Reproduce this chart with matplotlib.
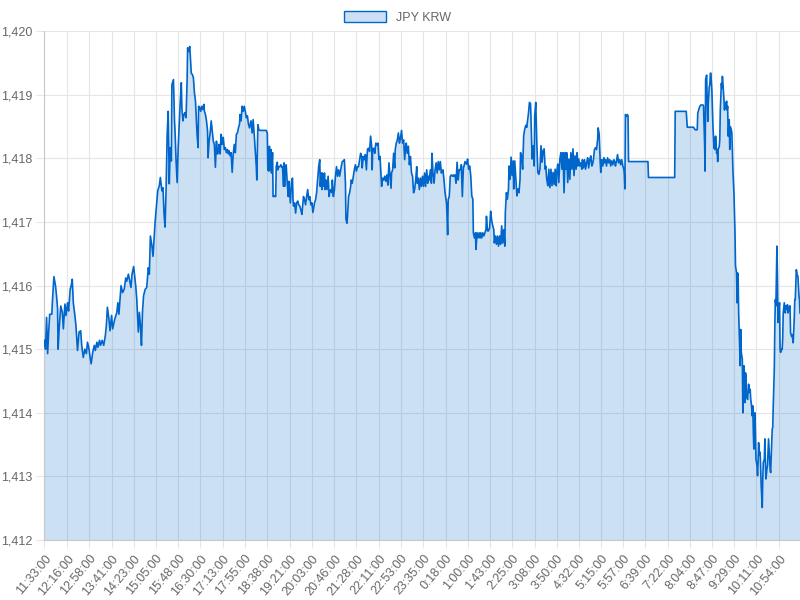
#!/usr/bin/env python3
"""JPY/KRW intraday rate, 24h of minute data, drawn as a filled line chart."""
import matplotlib
matplotlib.use("Agg")
import matplotlib.pyplot as plt
from matplotlib.patches import Patch

START = "11:33:00"   # first sample of the window

# minutes after START, and the rate at that minute
offsets = [
    0, 2, 4, 6, 8, 10, 14, 15, 18, 21, 23, 25, 26, 28, 31, 34, 36, 39, 41, 44,
    46, 49, 51, 53, 55, 58, 60, 63, 66, 69, 71, 74, 77, 80, 82, 85, 87, 89, 92, 95,
    97, 100, 102, 105, 107, 110, 113, 116, 118, 120, 123, 125, 128, 130, 134, 138, 140, 142, 146, 149,
    152, 155, 157, 160, 162, 165, 167, 170, 174, 176, 179, 181, 183, 185, 187, 189, 192, 195, 198, 200,
    202, 205, 207, 209, 211,
    # 15:05 - 17:55
    216, 219, 221, 224, 226, 228, 230, 232, 234, 236, 238, 240, 242, 243, 246, 248, 249, 251, 253, 255,
    257, 259, 261, 262, 264, 266, 268, 270, 272, 273, 275, 277, 278, 280, 282, 284, 286, 288, 290, 291,
    293, 294, 296, 298, 300, 302, 304, 305, 307, 309, 311, 312, 314, 316, 318, 320, 322, 324, 326, 328,
    330, 332, 333, 335, 337, 339, 341, 343, 345, 347, 349, 351, 352, 354, 356, 358, 360, 362, 364, 366,
    368, 370, 372, 373, 375, 377, 379, 381, 383, 385, 387, 389, 391, 393, 394, 396, 398, 400, 402,
    # 17:55 - 21:30
    404, 405, 407, 409, 411, 415, 419, 423, 425, 426, 428, 429, 430, 432, 433, 435, 436, 437, 439, 441,
    442, 444, 445, 447, 449, 451, 453, 454, 456, 457, 458, 459, 461, 463, 465, 466, 468, 469, 471, 473,
    474, 475, 477, 479, 481, 483, 485, 487, 489, 491, 493, 494, 496, 498, 500, 502, 504, 506, 508, 510,
    512, 514, 515, 517, 519, 521, 523, 525, 526, 528, 529, 530, 531, 533, 534, 535, 537, 539, 541, 543,
    544, 546, 548, 549, 551, 553, 555, 557, 559, 561, 563, 564, 566, 568, 570, 572, 574, 575, 577, 578,
    580, 582, 584, 585, 587, 589, 591, 593, 595, 597, 599, 601, 603,
    # 21:30 - 0:55
    605, 606, 608, 610, 612, 614, 616, 618, 620, 622, 624, 625, 626, 628, 630, 632, 634, 636, 638, 640,
    641, 643, 645, 647, 649, 651, 653, 655, 657, 659, 661, 662, 664, 666, 668, 669, 671, 673, 675, 677,
    679, 681, 683, 685, 687, 689, 690, 692, 694, 696, 698, 700, 702, 704, 706, 708, 710, 711, 713, 715,
    717, 719, 721, 723, 725, 727, 729, 731, 732, 734, 736, 738, 739, 741, 743, 745, 747, 749, 751, 753,
    755, 757, 758, 760, 762, 764, 766, 767, 769, 770, 772, 774, 776, 778, 780, 781, 783, 785, 787, 789,
    791, 793, 795, 797, 799, 800, 802,
    # 0:55 - 4:30
    805, 807, 809, 811, 813, 815, 817, 818, 820, 822, 823, 825, 827, 829, 831, 832, 834, 836, 838, 840,
    842, 843, 845, 847, 849, 851, 853, 855, 857, 858, 860, 862, 864, 866, 868, 870, 872, 874, 876, 878,
    879, 881, 883, 885, 886, 888, 890, 892, 894, 895, 897, 899, 901, 903, 905, 907, 908, 910, 912, 914,
    916, 918, 920, 921, 923, 925, 927, 928, 930, 932, 934, 935, 937, 939, 941, 943, 945, 947, 949, 951,
    953, 955, 956, 958, 960, 962, 964, 966, 968, 970, 972, 974, 976, 977, 979, 981, 983, 985, 987, 989,
    991, 993, 995, 996, 998, 1000, 1002, 1004, 1006, 1008, 1010, 1012, 1014, 1016, 1017, 1019, 1021,
    # 4:30 - 8:20
    1023, 1025, 1026, 1028, 1030, 1032, 1034, 1036, 1038, 1040, 1042, 1044, 1046, 1047, 1049, 1051, 1053, 1055, 1056, 1058,
    1059, 1060, 1061, 1063, 1065, 1067, 1068, 1070, 1072, 1074, 1076, 1078, 1080, 1082, 1084, 1086, 1088, 1089, 1091, 1093,
    1095, 1097, 1099, 1101, 1103, 1105, 1106, 1107, 1108, 1110, 1112, 1113, 1114, 1151, 1152, 1202, 1203, 1224, 1226, 1238,
    1241, 1245, 1246, 1248, 1250,
    # 8:25 - 11:33
    1252, 1254, 1256, 1257, 1259, 1260, 1261, 1263, 1264, 1265, 1266, 1268, 1269, 1270, 1271, 1273, 1274, 1275, 1277, 1278,
    1279, 1280, 1282, 1283, 1284, 1285, 1287, 1288, 1289, 1291, 1292, 1293, 1294, 1296, 1297, 1298, 1299, 1301, 1302, 1303,
    1304, 1306, 1307, 1308, 1310, 1311, 1312, 1313, 1315, 1316, 1317, 1318, 1320, 1321, 1322, 1323, 1324, 1325, 1327, 1328,
    1329, 1331, 1332, 1333, 1334, 1336, 1337, 1338, 1339, 1341, 1342, 1343, 1345, 1346, 1347, 1348, 1350, 1351, 1352, 1353,
    1355, 1356, 1357, 1359, 1360, 1361, 1362, 1364, 1365, 1366, 1367, 1369, 1370, 1371, 1373, 1374, 1375, 1376, 1378, 1379,
    1380, 1381, 1383, 1384, 1385, 1387, 1388, 1389, 1390, 1392, 1393, 1394, 1395, 1397, 1398, 1399, 1400, 1402, 1403, 1404,
    1406, 1407, 1408, 1409, 1411, 1412, 1413, 1414, 1416, 1417, 1418, 1420, 1421, 1422, 1423, 1425, 1426, 1427, 1428, 1430,
    1431, 1432, 1434, 1435, 1436, 1437, 1439, 1440, 1441,
]

rates = [
    1415.14, 1415.0, 1415.5, 1414.93, 1415.27, 1415.55, 1415.55, 1415.73, 1416.14, 1416.0,
    1415.84, 1415.63, 1415.0, 1415.32, 1415.68, 1415.58, 1415.32, 1415.71, 1415.53, 1415.73,
    1415.6, 1415.94, 1416.0, 1416.1, 1415.73, 1415.53, 1415.37, 1414.98, 1415.27, 1415.29,
    1415.06, 1414.87, 1415.0, 1414.93, 1415.11, 1415.0, 1414.87, 1414.77, 1414.95, 1415.06,
    1414.98, 1415.11, 1415.03, 1415.14, 1415.06, 1415.14, 1415.06, 1415.21, 1415.37, 1415.66,
    1415.47, 1415.29, 1415.53, 1415.32, 1415.47, 1415.58, 1415.73, 1415.55, 1416.0, 1415.89,
    1415.94, 1416.12, 1416.07, 1416.18, 1416.1, 1415.97, 1416.18, 1416.3, 1416.0, 1415.79,
    1415.27, 1415.58, 1415.37, 1415.06, 1415.6, 1415.84, 1415.94, 1415.97, 1416.28, 1416.18,
    1416.78, 1416.62, 1416.46, 1416.72, 1417.0,
    # 15:05 - 17:55
    1417.49, 1417.57, 1417.7, 1417.49, 1417.54, 1417.13, 1416.92, 1417.54, 1418.38, 1418.74,
    1417.6, 1418.17, 1417.96, 1419.16, 1419.24, 1418.59, 1418.43, 1417.96, 1417.62, 1418.17,
    1418.54, 1418.9, 1419.19, 1418.8, 1418.59, 1418.69, 1418.72, 1418.64, 1419.21, 1419.74,
    1419.68, 1419.76, 1419.63, 1419.34, 1419.32, 1419.27, 1419.03, 1418.9, 1418.54, 1418.38,
    1418.17, 1418.82, 1418.8, 1418.74, 1418.82, 1418.77, 1418.85, 1418.74, 1418.69, 1418.59,
    1418.43, 1418.01, 1418.27, 1418.4, 1418.59, 1418.43, 1418.27, 1418.22, 1417.86, 1418.27,
    1418.07, 1418.12, 1418.22, 1418.07, 1418.38, 1418.22, 1418.33, 1418.14, 1418.17, 1418.09,
    1418.14, 1418.07, 1418.12, 1418.04, 1418.09, 1417.78, 1418.07, 1418.22, 1418.09, 1418.38,
    1418.4, 1418.48, 1418.54, 1418.69, 1418.59, 1418.82, 1418.74, 1418.82, 1418.74, 1418.64,
    1418.67, 1418.54, 1418.48, 1418.56, 1418.59, 1418.4, 1418.61, 1418.38, 1418.12,
    # 17:55 - 21:30
    1417.87, 1417.66, 1418.53, 1418.45, 1418.44, 1418.44, 1418.44, 1418.44, 1418.4, 1417.82,
    1417.8, 1418.19, 1417.82, 1418.14, 1417.77, 1418.09, 1417.4, 1417.4, 1417.41, 1417.4,
    1417.87, 1417.94, 1417.82, 1417.87, 1417.87, 1417.9, 1417.86, 1417.87, 1417.56, 1417.93,
    1417.56, 1417.87, 1417.9, 1417.61, 1417.4, 1417.64, 1417.4, 1417.3, 1417.61, 1417.69,
    1417.35, 1417.25, 1417.3, 1417.14, 1417.3, 1417.33, 1417.27, 1417.25, 1417.19, 1417.12,
    1417.3, 1417.4, 1417.35, 1417.27, 1417.4, 1417.51, 1417.35, 1417.4, 1417.27, 1417.3,
    1417.15, 1417.25, 1417.3, 1417.35, 1417.46, 1417.66, 1417.87, 1417.98, 1417.56, 1417.77,
    1417.51, 1417.77, 1417.66, 1417.56, 1417.77, 1417.51, 1417.66, 1417.51, 1417.72, 1417.4,
    1417.46, 1417.51, 1417.46, 1417.66, 1417.4, 1417.51, 1417.72, 1417.87, 1417.72, 1417.82,
    1417.72, 1417.77, 1417.87, 1417.95, 1417.96, 1417.98, 1417.61, 1417.04, 1416.98, 1417.09,
    1417.4, 1417.46, 1417.56, 1417.66, 1417.61, 1417.72, 1417.82, 1417.9, 1417.8, 1417.87,
    1417.87, 1417.98, 1418.08,
    # 21:30 - 0:55
    1418.03, 1417.85, 1418.03, 1417.98, 1418.06, 1417.82, 1418.14, 1418.16, 1418.11, 1418.35,
    1418.19, 1417.82, 1418.14, 1418.16, 1418.08, 1418.24, 1418.21, 1418.24, 1417.98, 1418.03,
    1417.87, 1417.56, 1417.69, 1417.66, 1417.72, 1417.64, 1417.74, 1417.58, 1417.93, 1417.72,
    1417.53, 1417.77, 1417.82, 1418.08, 1417.85, 1418.14, 1418.24, 1418.29, 1418.4, 1418.24,
    1418.32, 1418.44, 1418.24, 1418.29, 1417.98, 1418.19, 1418.24, 1418.08, 1418.19, 1417.9,
    1418.03, 1417.77, 1417.72, 1417.46, 1417.51, 1417.66, 1417.87, 1417.61, 1417.69, 1417.51,
    1417.69, 1417.56, 1417.72, 1417.56, 1417.77, 1417.56, 1417.82, 1417.61, 1417.72, 1417.66,
    1417.82, 1417.61, 1418.08, 1417.77, 1417.61, 1417.82, 1417.93, 1417.77, 1417.95, 1417.82,
    1417.95, 1417.77, 1417.8, 1417.82, 1417.66, 1417.46, 1417.35, 1417.27, 1416.8, 1417.35,
    1417.4, 1417.72, 1417.74, 1417.72, 1417.74, 1417.72, 1417.74, 1417.61, 1417.94, 1417.66,
    1417.82, 1417.82, 1417.9, 1417.4, 1417.87, 1417.87, 1417.95,
    # 0:55 - 4:30
    1417.91, 1417.99, 1417.83, 1417.88, 1417.73, 1417.41, 1417.36, 1416.83, 1416.75, 1416.83,
    1416.57, 1416.83, 1416.75, 1416.83, 1416.75, 1416.83, 1416.75, 1416.83, 1416.78, 1416.83,
    1416.88, 1417.09, 1416.86, 1416.86, 1416.91, 1417.17, 1417.02, 1416.94, 1416.88, 1416.67,
    1416.78, 1416.65, 1416.78, 1416.62, 1416.78, 1416.65, 1416.94, 1416.67, 1416.88, 1416.62,
    1417.15, 1417.46, 1417.36, 1417.52, 1417.88, 1417.67, 1418.02, 1417.73, 1417.96, 1417.52,
    1417.96, 1417.67, 1417.41, 1417.52, 1417.46, 1417.67, 1418.09, 1418.04, 1417.83, 1418.36,
    1418.46, 1418.52, 1418.49, 1418.57, 1418.7, 1418.88, 1418.86, 1418.62, 1417.99, 1418.2,
    1417.88, 1418.67, 1418.88, 1418.25, 1417.78, 1417.75, 1417.83, 1418.2, 1417.94, 1418.12,
    1418.15, 1417.83, 1417.88, 1417.67, 1417.57, 1417.83, 1417.54, 1417.83, 1417.57, 1417.78,
    1417.59, 1417.83, 1417.57, 1417.78, 1417.91, 1417.62, 1417.99, 1418.09, 1417.83, 1418.09,
    1417.46, 1418.09, 1417.83, 1418.09, 1417.62, 1417.99, 1417.67, 1418.09, 1417.83, 1418.15,
    1417.73, 1418.04, 1417.83, 1418.09, 1417.88, 1417.99, 1417.88,
    # 4:30 - 8:20
    1417.93, 1417.83, 1417.98, 1417.85, 1417.98, 1417.83, 1417.93, 1418.01, 1417.85, 1417.98,
    1418.04, 1417.88, 1417.93, 1417.98, 1418.14, 1418.17, 1418.14, 1418.3, 1418.48, 1418.38,
    1418.14, 1417.93, 1417.78, 1417.98, 1417.88, 1418.01, 1417.93, 1417.98, 1417.88, 1418.01,
    1417.93, 1417.98, 1417.88, 1417.96, 1417.9, 1417.98, 1417.93, 1417.88, 1417.96, 1418.06,
    1417.93, 1417.98, 1417.9, 1417.98, 1417.88, 1417.83, 1417.75, 1417.52, 1418.69, 1418.66,
    1418.69, 1418.66, 1417.95, 1417.95, 1417.7, 1417.7, 1418.74, 1418.74, 1418.49, 1418.49,
    1418.45, 1418.45, 1418.71, 1418.77, 1418.82,
    # 8:25 - 11:33
    1418.84, 1418.84, 1418.84, 1418.82, 1418.24, 1417.8, 1419.24, 1419.31, 1418.87, 1418.58,
    1418.87, 1419.13, 1419.16, 1419.34, 1419.34, 1419.05, 1418.76, 1418.5, 1418.16, 1418.32,
    1418.14, 1418.35, 1418.08, 1418.14, 1417.95, 1418.14, 1418.19, 1418.29, 1418.76, 1419.18,
    1419.1, 1419.29, 1419.18, 1418.92, 1418.76, 1418.87, 1418.79, 1418.9, 1418.76, 1418.82,
    1418.35, 1418.61, 1418.14, 1418.5, 1418.45, 1418.4, 1418.14, 1417.82, 1417.46, 1417.14,
    1416.83, 1416.31, 1416.2, 1415.73, 1416.2, 1416.1, 1415.57, 1415.31, 1414.74, 1415.31,
    1414.95, 1414.84, 1414.0, 1414.48, 1414.74, 1414.16, 1414.63, 1414.58, 1414.27, 1414.21,
    1414.32, 1414.45, 1414.32, 1414.37, 1414.21, 1414.16, 1413.95, 1414.11, 1413.69, 1413.43,
    1414.0, 1413.69, 1413.27, 1413.17, 1413.01, 1413.22, 1413.53, 1413.33, 1413.38, 1413.12,
    1412.85, 1412.51, 1412.96, 1413.22, 1413.27, 1413.59, 1413.22, 1412.96, 1413.12, 1413.17,
    1413.4, 1413.59, 1413.27, 1413.12, 1413.06, 1413.53, 1413.74, 1413.77, 1414.11, 1414.69,
    1415.37, 1415.78, 1415.68, 1416.62, 1416.15, 1415.42, 1415.57, 1415.73, 1415.0, 1414.95,
    1415.0, 1415.0, 1415.16, 1415.57, 1415.73, 1415.65, 1415.57, 1415.68, 1415.63, 1415.7,
    1415.57, 1415.63, 1415.68, 1415.68, 1415.26, 1415.2, 1415.23, 1415.16, 1415.1, 1415.47,
    1415.78, 1415.78, 1416.25, 1416.2, 1416.15, 1416.15, 1415.84, 1415.78, 1415.57,
]

tick_labels = [
    "11:33:00", "12:16:00", "12:58:00", "13:41:00", "14:23:00", "15:05:00", "15:48:00",
    "16:30:00", "17:13:00", "17:55:00", "18:38:00", "19:21:00", "20:03:00", "20:46:00",
    "21:28:00", "22:11:00", "22:53:00", "23:35:00", "0:18:00", "1:00:00", "1:43:00",
    "2:25:00", "3:08:00", "3:50:00", "4:32:00", "5:15:00", "5:57:00", "6:39:00",
    "7:22:00", "8:04:00", "8:47:00", "9:29:00", "10:11:00", "10:54:00",
]

y_ticks = [1412, 1413, 1414, 1415, 1416, 1417, 1418, 1419, 1420]

LINE = "#0066cc"
GRID = "#e6e6e6"
TEXT = "#666666"


def minutes_after_start(label):
    h, m, _ = (int(p) for p in label.split(":"))
    sh, sm, _ = (int(p) for p in START.split(":"))
    d = (h * 60 + m) - (sh * 60 + sm)
    return d if d >= 0 else d + 24 * 60


def main():
    if len(offsets) != len(rates):
        raise SystemExit(f"length mismatch: {len(offsets)} offsets vs {len(rates)} rates")

    plt.rcParams["font.family"] = ["Liberation Sans", "DejaVu Sans"]
    fig = plt.figure(figsize=(8, 6), dpi=100)
    ax = fig.add_axes([0.0556, 0.1, 0.9444, 0.848])

    ax.fill_between(offsets, rates, y_ticks[0], color=LINE, alpha=0.2, lw=0, zorder=2)
    ax.plot(offsets, rates, color=LINE, lw=1.2, zorder=3)

    ax.set_xlim(0, offsets[-1])
    ax.set_ylim(y_ticks[0], y_ticks[-1])

    ax.set_xticks([minutes_after_start(t) for t in tick_labels])
    ax.set_xticklabels(tick_labels, rotation=50, ha="right", rotation_mode="anchor",
                       fontsize=9, color=TEXT)
    ax.set_yticks(y_ticks)
    ax.set_yticklabels([f"{v:,}" for v in y_ticks], fontsize=9, color=TEXT)

    ax.grid(True, color=GRID, lw=0.8, zorder=0)
    ax.set_axisbelow(True)
    ax.tick_params(axis="both", length=6, width=0.8, color=GRID, pad=3)
    for side in ("top", "right"):
        ax.spines[side].set_visible(False)
    for side in ("left", "bottom"):
        ax.spines[side].set_color("#c8c8c8")
        ax.spines[side].set_linewidth(0.8)

    fig.legend(handles=[Patch(facecolor="#cce0f5", edgecolor=LINE, lw=1, label="JPY KRW")],
               loc="upper center", bbox_to_anchor=(0.497, 1.0), frameon=False,
               fontsize=9, handlelength=3.3, handleheight=0.9, labelcolor=TEXT)

    fig.savefig("out.png", dpi=100)
    plt.close(fig)


if __name__ == "__main__":
    main()
